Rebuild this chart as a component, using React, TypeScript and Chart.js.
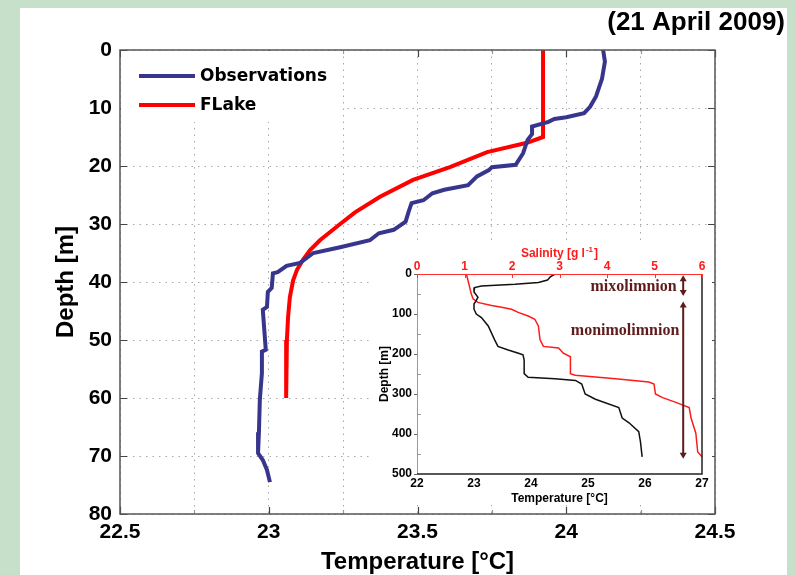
import React, { useEffect, useRef } from "react";
import { Chart, registerables } from "chart.js";

Chart.register(...registerables);

// ---- Main profile (21 April 2009) ----
const obsDepth = [
  0, 2, 5, 8, 9.8, 10.9, 11.6, 11.9, 12.4, 13.2, 14.5, 15.5, 17.8, 19.8, 20.2, 20.7,
  21.8, 23.3, 24.1, 24.7, 25.9, 26.4, 27.9, 29.6, 31, 31.6, 32.8, 34, 35, 36.7, 37.2,
  38.3, 38.5, 41, 41.7, 44.3, 44.8, 51.7, 52, 55.7, 60.3, 65.9, 69.5, 70.7, 72.4, 74.5,
];
const obsTemp = [
  24.124, 24.13, 24.12, 24.1, 24.08, 24.06, 24.0, 23.96, 23.94, 23.885, 23.885, 23.87,
  23.855, 23.83, 23.75, 23.74, 23.7, 23.67, 23.59, 23.55, 23.52, 23.48, 23.47, 23.46,
  23.42, 23.37, 23.34, 23.24, 23.15, 23.105, 23.06, 23.03, 23.014, 23.01, 22.997, 22.994,
  22.98, 22.99, 22.977, 22.977, 22.97, 22.967, 22.964, 22.98, 22.994, 23.004,
];
const flakeDepth = [0, 15, 16, 17.6, 20.2, 22.4, 25.3, 28, 30, 32.8, 34.5, 36.2, 37.9, 39.7, 42.6, 46, 50, 55, 60];
const flakeTemp = [
  23.922, 23.922, 23.868, 23.734, 23.609, 23.485, 23.374, 23.29, 23.24, 23.172, 23.139,
  23.115, 23.095, 23.082, 23.071, 23.065, 23.061, 23.059, 23.058,
];
const mainTempTicks = [22.5, 23, 23.5, 24, 24.5];
const mainDepthTicks = [0, 10, 20, 30, 40, 50, 60, 70, 80];
const seriesNames = ["Observations", "FLake"];
const dateLabel = "(21 April 2009)";

// ---- Inset: long-term temperature and salinity profile ----
const insetTempDepth = [
  0, 7, 15, 21, 25.5, 30, 34, 45, 58, 66, 75, 88, 100, 109, 130, 164, 181, 190, 198, 202,
  215, 249, 258, 262, 266, 275, 300, 313, 334, 360, 372, 394, 419, 457,
];
const insetTemp = [
  24.42, 24.34, 24.29, 24.13, 23.72, 23.13, 23.01, 23.0, 23.07, 23.04, 23.0, 23.0, 23.04,
  23.13, 23.25, 23.36, 23.42, 23.6, 23.78, 23.86, 23.88, 23.88, 23.95, 24.42, 24.78, 24.89,
  24.95, 25.13, 25.54, 25.6, 25.72, 25.89, 25.92, 25.95,
];
const insetSalDepth = [
  0, 24, 49, 62, 71, 79, 83, 88, 96, 105, 113, 130, 164, 181, 185, 198, 207, 249, 253, 262,
  270, 275, 300, 309, 321, 334, 360, 398, 445, 457,
];
const insetSal = [
  1.04, 1.09, 1.14, 1.18, 1.28, 1.57, 1.78, 1.99, 2.13, 2.34, 2.48, 2.555, 2.59, 2.66, 2.98,
  3.08, 3.23, 3.23, 3.33, 4.18, 4.88, 4.99, 5.02, 5.17, 5.45, 5.73, 5.77, 5.87, 5.91, 6.0,
];
const insetTempTicks = [22, 23, 24, 25, 26, 27];
const insetSalTicks = [0, 1, 2, 3, 4, 5, 6];
const insetDepthTicks = [0, 100, 200, 300, 400, 500];
// layer extents (depth, m) and label anchors (temperature, depth)
const mixoLayer = [3, 55];
const monimoLayer = [69, 462];
const layerArrowTemp = 26.67;
const mixoLabelAt = [25.8, 32];
const monimoLabelAt = [25.65, 143];

const BLUE = "#38368c";
const RED = "#ff0000";
const GREEN = "#c6e0c9";
const MAROON = "#5e1c1c";
const SANS = '"Liberation Sans", Arial, Helvetica, sans-serif';
const NARROW = '"Liberation Sans Narrow", "Arial Narrow", "Liberation Sans", Arial, sans-serif';

const pairs = (xs: number[], ys: number[]) => xs.map((x, i) => ({ x, y: ys[i] }));
const near = (v: number, list: number[]) => list.some((t) => Math.abs(t - v) < 1e-6);

const mainDecor = {
  id: "mainDecor",
  beforeDraw(chart: any) {
    const { ctx, width, height } = chart;
    ctx.save();
    ctx.fillStyle = GREEN;
    ctx.fillRect(0, 0, width, height);
    ctx.fillStyle = "#ffffff";
    ctx.fillRect(20, 8, 767, height - 8);
    ctx.restore();
  },
  afterDatasetsDraw(chart: any) {
    const { ctx, chartArea: a, scales } = chart;
    const xs = scales.x;
    const ys = scales.y;
    ctx.save();
    // inward tick marks on all four sides
    for (let v = 22.5; v <= 24.5001; v += 0.25) {
      const px = Math.round(xs.getPixelForValue(v)) + 0.5;
      const major = near(v, mainTempTicks);
      const len = major ? 7 : 4;
      ctx.strokeStyle = major ? "#444" : "#999";
      ctx.lineWidth = 1.2;
      ctx.beginPath();
      ctx.moveTo(px, a.bottom);
      ctx.lineTo(px, a.bottom - len);
      ctx.moveTo(px, a.top);
      ctx.lineTo(px, a.top + len);
      ctx.stroke();
    }
    for (const d of mainDepthTicks) {
      const py = Math.round(ys.getPixelForValue(d)) + 0.5;
      ctx.strokeStyle = "#444";
      ctx.lineWidth = 1.2;
      ctx.beginPath();
      ctx.moveTo(a.left, py);
      ctx.lineTo(a.left + 7, py);
      ctx.moveTo(a.right, py);
      ctx.lineTo(a.right - 7, py);
      ctx.stroke();
    }
    // frame
    ctx.strokeStyle = "#555";
    ctx.lineWidth = 1.5;
    ctx.strokeRect(a.left, a.top, a.right - a.left, a.bottom - a.top);

    // legend
    ctx.fillStyle = "#ffffff";
    ctx.fillRect(a.left + 1, a.top + 1, 222, 71);
    const colors = [BLUE, RED];
    const rowsY = [76, 105];
    ctx.font = 'bold 17px "DejaVu Sans", sans-serif';
    ctx.textBaseline = "middle";
    ctx.textAlign = "left";
    seriesNames.forEach((name, i) => {
      ctx.strokeStyle = colors[i];
      ctx.lineWidth = 4;
      ctx.beginPath();
      ctx.moveTo(139, rowsY[i]);
      ctx.lineTo(195, rowsY[i]);
      ctx.stroke();
      ctx.fillStyle = "#000";
      ctx.fillText(name, 200, rowsY[i] + 1);
    });
    ctx.restore();
  },
  afterDraw(chart: any) {
    const { ctx, chartArea: a } = chart;
    ctx.save();
    ctx.fillStyle = "#000";
    ctx.font = `bold 26px ${SANS}`;
    ctx.textAlign = "right";
    ctx.textBaseline = "middle";
    ctx.fillText(dateLabel, 785, 23);

    ctx.font = `bold 24px ${SANS}`;
    ctx.textAlign = "center";
    ctx.fillText("Temperature [°C]", (a.left + a.right) / 2, 562);
    ctx.translate(66, (a.top + a.bottom) / 2);
    ctx.rotate(-Math.PI / 2);
    ctx.fillText("Depth [m]", 0, 0);
    ctx.restore();
  },
};

function drawArrow(ctx: any, x: number, y1: number, y2: number) {
  const h = 6;
  const w = 3.5;
  ctx.beginPath();
  ctx.moveTo(x, y1 + h - 1);
  ctx.lineTo(x, y2 - h + 1);
  ctx.stroke();
  ctx.beginPath();
  ctx.moveTo(x, y1);
  ctx.lineTo(x - w, y1 + h);
  ctx.lineTo(x + w, y1 + h);
  ctx.closePath();
  ctx.fill();
  ctx.beginPath();
  ctx.moveTo(x, y2);
  ctx.lineTo(x - w, y2 - h);
  ctx.lineTo(x + w, y2 - h);
  ctx.closePath();
  ctx.fill();
}

const insetDecor = {
  id: "insetDecor",
  beforeDraw(chart: any) {
    const { ctx, width, height } = chart;
    ctx.save();
    ctx.fillStyle = "#ffffff";
    ctx.fillRect(0, 0, width, height);
    ctx.restore();
  },
  afterDatasetsDraw(chart: any) {
    const { ctx, chartArea: a, scales } = chart;
    const tx = scales.x;
    const sx = scales.xs;
    const dy = scales.y;
    ctx.save();
    // frame: red salinity axis on top, temperature axis below
    ctx.lineWidth = 1;
    ctx.strokeStyle = "#999";
    ctx.beginPath();
    ctx.moveTo(a.left + 0.5, a.top);
    ctx.lineTo(a.left + 0.5, a.bottom);
    ctx.stroke();
    ctx.strokeStyle = "#222";
    ctx.lineWidth = 1.5;
    ctx.beginPath();
    ctx.moveTo(a.left, a.bottom);
    ctx.lineTo(a.right, a.bottom);
    ctx.lineTo(a.right, a.top);
    ctx.stroke();
    ctx.strokeStyle = "#ff3030";
    ctx.lineWidth = 1;
    ctx.beginPath();
    ctx.moveTo(a.left, a.top + 0.5);
    ctx.lineTo(a.right, a.top + 0.5);
    ctx.stroke();
    for (const s of insetSalTicks) {
      const px = Math.round(sx.getPixelForValue(s)) + 0.5;
      ctx.beginPath();
      ctx.moveTo(px, a.top);
      ctx.lineTo(px, a.top + 4);
      ctx.stroke();
    }
    ctx.strokeStyle = "#999";
    for (let d = 50; d < 500; d += 100) {
      const py = Math.round(dy.getPixelForValue(d)) + 0.5;
      ctx.beginPath();
      ctx.moveTo(a.left, py);
      ctx.lineTo(a.left + 4, py);
      ctx.stroke();
    }
    ctx.strokeStyle = "#666";
    for (const d of insetDepthTicks) {
      const py = Math.round(dy.getPixelForValue(d)) + 0.5;
      ctx.beginPath();
      ctx.moveTo(a.left - 3, py);
      ctx.lineTo(a.left, py);
      ctx.stroke();
    }

    // water layers
    ctx.strokeStyle = MAROON;
    ctx.fillStyle = MAROON;
    ctx.lineWidth = 2;
    const ax = tx.getPixelForValue(layerArrowTemp);
    drawArrow(ctx, ax, dy.getPixelForValue(mixoLayer[0]), dy.getPixelForValue(mixoLayer[1]));
    drawArrow(ctx, ax, dy.getPixelForValue(monimoLayer[0]), dy.getPixelForValue(monimoLayer[1]));
    ctx.font = 'bold 16px "Liberation Serif", "Times New Roman", serif';
    ctx.textAlign = "center";
    ctx.textBaseline = "middle";
    ctx.fillText("mixolimnion", tx.getPixelForValue(mixoLabelAt[0]), dy.getPixelForValue(mixoLabelAt[1]));
    ctx.fillText("monimolimnion", tx.getPixelForValue(monimoLabelAt[0]), dy.getPixelForValue(monimoLabelAt[1]));
    ctx.restore();
  },
  afterDraw(chart: any) {
    const { ctx, chartArea: a } = chart;
    ctx.save();
    const cx = (a.left + a.right) / 2;
    // salinity title with superscript
    ctx.fillStyle = "#ff1a1a";
    ctx.textBaseline = "alphabetic";
    ctx.textAlign = "left";
    const main1 = "Salinity [g l";
    const sup = "-1";
    const close = "]";
    ctx.font = `bold 12px ${NARROW}`;
    const w1 = ctx.measureText(main1).width;
    const w3 = ctx.measureText(close).width;
    ctx.font = `bold 8px ${NARROW}`;
    const w2 = ctx.measureText(sup).width;
    const x0 = cx - (w1 + w2 + w3 + 2) / 2;
    ctx.font = `bold 12px ${NARROW}`;
    ctx.fillText(main1, x0, 14);
    ctx.font = `bold 8px ${NARROW}`;
    ctx.fillText(sup, x0 + w1 + 1, 9);
    ctx.font = `bold 12px ${NARROW}`;
    ctx.fillText(close, x0 + w1 + w2 + 2, 14);

    ctx.fillStyle = "#000";
    ctx.textAlign = "center";
    ctx.textBaseline = "middle";
    ctx.fillText("Temperature [°C]", cx, 256);
    ctx.translate(13, (a.top + a.bottom) / 2);
    ctx.rotate(-Math.PI / 2);
    ctx.fillText("Depth [m]", 0, 0);
    ctx.restore();
  },
};

export default function App() {
  const mainRef = useRef<HTMLCanvasElement | null>(null);
  const insetRef = useRef<HTMLCanvasElement | null>(null);

  useEffect(() => {
    if (!mainRef.current || !insetRef.current) return;
    const tickFont = { family: SANS, size: 21, weight: "bold" as const };
    const main = new Chart(mainRef.current, {
      type: "scatter",
      data: {
        datasets: [
          {
            label: seriesNames[0],
            data: pairs(obsTemp, obsDepth),
            showLine: true,
            borderColor: BLUE,
            borderWidth: 4,
            pointRadius: 0,
            fill: false,
          },
          {
            label: seriesNames[1],
            data: pairs(flakeTemp, flakeDepth),
            showLine: true,
            borderColor: RED,
            borderWidth: 4,
            pointRadius: 0,
            fill: false,
          },
        ],
      },
      options: {
        responsive: false,
        animation: false,
        events: [],
        layout: { padding: { left: 0, top: 50, right: 81, bottom: 0 } },
        plugins: { legend: { display: false }, tooltip: { enabled: false } },
        scales: {
          x: {
            type: "linear",
            min: 22.5,
            max: 24.5,
            ticks: {
              stepSize: 0.25,
              autoSkip: false,
              maxRotation: 0,
              padding: 6,
              color: "#000",
              font: tickFont,
              callback: (v: any) => (near(Number(v), mainTempTicks) ? String(v) : ""),
            },
            grid: { color: "#a8a8a8", lineWidth: 1, drawTicks: false },
            border: { display: false, dash: [1.5, 5] },
            afterFit: (s: any) => {
              s.height = 61;
            },
          },
          y: {
            type: "linear",
            reverse: true,
            min: 0,
            max: 80,
            ticks: {
              stepSize: 10,
              padding: 8,
              color: "#000",
              font: tickFont,
              callback: (v: any) => (near(Number(v), mainDepthTicks) ? String(v) : ""),
            },
            grid: { color: "#a8a8a8", lineWidth: 1, drawTicks: false },
            border: { display: false, dash: [1.5, 5] },
            afterFit: (s: any) => {
              s.width = 120;
            },
          },
        },
      },
      plugins: [mainDecor],
    });

    const insetFont = { family: NARROW, size: 12, weight: "bold" as const };
    const inset = new Chart(insetRef.current, {
      type: "scatter",
      data: {
        datasets: [
          {
            label: "Temperature",
            data: pairs(insetTemp, insetTempDepth),
            xAxisID: "x",
            yAxisID: "y",
            showLine: true,
            borderColor: "#111",
            borderWidth: 1.5,
            pointRadius: 0,
            fill: false,
          },
          {
            label: "Salinity",
            data: pairs(insetSal, insetSalDepth),
            xAxisID: "xs",
            yAxisID: "y",
            showLine: true,
            borderColor: "#ff1a1a",
            borderWidth: 1.5,
            pointRadius: 0,
            fill: false,
            clip: 4,
          },
        ],
      },
      options: {
        responsive: false,
        animation: false,
        events: [],
        layout: { padding: { left: 0, top: 0, right: 10, bottom: 0 } },
        plugins: { legend: { display: false }, tooltip: { enabled: false } },
        scales: {
          x: {
            type: "linear",
            position: "bottom",
            min: 22,
            max: 27,
            ticks: {
              stepSize: 1,
              padding: 2,
              color: "#000",
              font: insetFont,
              callback: (v: any) => (near(Number(v), insetTempTicks) ? String(v) : ""),
            },
            grid: { display: false, drawTicks: false },
            border: { display: false },
            afterFit: (s: any) => {
              s.height = 31;
            },
          },
          xs: {
            type: "linear",
            position: "top",
            min: 0,
            max: 6,
            ticks: {
              stepSize: 1,
              padding: 0,
              color: "#ff1a1a",
              font: insetFont,
              callback: (v: any) => (near(Number(v), insetSalTicks) ? String(v) : ""),
            },
            grid: { display: false, drawTicks: false },
            border: { display: false },
            afterFit: (s: any) => {
              s.height = 31;
            },
          },
          y: {
            type: "linear",
            reverse: true,
            min: 0,
            max: 500,
            ticks: {
              stepSize: 100,
              padding: 5,
              color: "#000",
              font: insetFont,
              callback: (v: any) => (near(Number(v), insetDepthTicks) ? String(v) : ""),
            },
            grid: { display: false, drawTicks: false },
            border: { display: false },
            afterFit: (s: any) => {
              s.width = 45;
            },
          },
        },
      },
      plugins: [insetDecor],
    });

    return () => {
      main.destroy();
      inset.destroy();
    };
  }, []);

  return (
    <div style={{ position: "absolute", left: 0, top: 0, width: 796, height: 575 }}>
      <canvas ref={mainRef} width={796} height={575} style={{ position: "absolute", left: 0, top: 0 }} />
      <canvas
        ref={insetRef}
        width={340}
        height={262}
        style={{ position: "absolute", left: 372, top: 243 }}
      />
    </div>
  );
}
